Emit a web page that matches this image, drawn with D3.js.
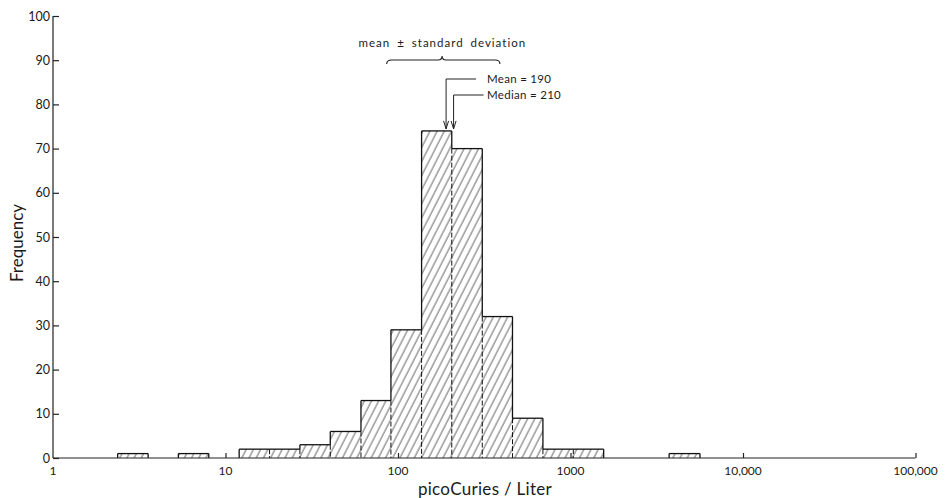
<!DOCTYPE html>
<html>
<head>
<meta charset="utf-8">
<script src="https://cdn.jsdelivr.net/npm/d3@7/dist/d3.min.js"></script>
<style>
  html, body { margin: 0; padding: 0; background: #fff; }
  svg { display: block; }
  text { font-family: Lato, "DejaVu Sans", sans-serif; fill: #1a1a1a; }
</style>
</head>
<body>
<svg id="chart" width="946" height="498"></svg>
<script>
// Histogram of radon concentration (picoCuries per liter), log-spaced bins
const binLow  = [2.37, 5.33, 12, 18, 27, 40.5, 61, 91, 137, 205, 308, 461, 692, 1038, 3730];
const binHigh = [3.56, 8,    18, 27, 40.5, 61, 91, 137, 205, 308, 461, 692, 1038, 1557, 5630];
const frequency = [1, 1, 2, 2, 3, 6, 13, 29, 74, 70, 32, 9, 2, 2, 1];

const xTickValues = [1, 10, 100, 1000, 10000, 100000];
const xTickLabels = ["1", "10", "100", "1000", "10,000", "100,000"];
const yTickValues = [0, 10, 20, 30, 40, 50, 60, 70, 80, 90, 100];

const meanValue = 190;
const medianValue = 210;
const sdRange = [86, 390];

const svg = d3.select("#chart");
const x = d3.scaleLog().domain([1, 100000]).range([53, 915.5]);
const y = d3.scaleLinear().domain([0, 100]).range([458, 16]);

// diagonal hatch used to fill the bars
const defs = svg.append("defs");
const pat = defs.append("pattern")
  .attr("id", "hatch")
  .attr("patternUnits", "userSpaceOnUse")
  .attr("width", 6.4).attr("height", 10)
  .attr("patternTransform", "rotate(27)");
pat.append("line")
  .attr("x1", 1).attr("y1", -2).attr("x2", 1).attr("y2", 12)
  .attr("stroke", "#3a3a3a").attr("stroke-width", 0.8);

const bins = frequency.map((f, i) => ({ lo: binLow[i], hi: binHigh[i], f }));

// bar fills
svg.append("g").selectAll("rect").data(bins).join("rect")
  .attr("x", d => x(d.lo))
  .attr("y", d => y(d.f))
  .attr("width", d => x(d.hi) - x(d.lo))
  .attr("height", d => y(0) - y(d.f))
  .attr("fill", "url(#hatch)");

// bar outlines: solid outer edges, dashed dividers between touching bars
const outline = svg.append("g").attr("fill", "none").attr("stroke", "#111");
bins.forEach((d, i) => {
  const x0 = x(d.lo), x1 = x(d.hi), yt = y(d.f);
  outline.append("line").attr("x1", x0).attr("x2", x1).attr("y1", yt).attr("y2", yt)
    .attr("stroke-width", 1.3);
  const prev = i > 0 && bins[i - 1].hi === d.lo ? bins[i - 1] : null;
  const next = i < bins.length - 1 && bins[i + 1].lo === d.hi ? bins[i + 1] : null;
  // left side
  const lBase = prev ? Math.min(prev.f, d.f) : 0;
  if (!prev || d.f > prev.f)
    outline.append("line").attr("x1", x0).attr("x2", x0).attr("y1", yt).attr("y2", y(lBase))
      .attr("stroke-width", 1.3);
  if (prev)
    outline.append("line").attr("x1", x0).attr("x2", x0).attr("y1", y(lBase)).attr("y2", y(0))
      .attr("stroke-width", 1).attr("stroke-dasharray", "5,2");
  // right side
  const rBase = next ? Math.min(next.f, d.f) : 0;
  if (!next || d.f > next.f)
    outline.append("line").attr("x1", x1).attr("x2", x1).attr("y1", yt).attr("y2", y(rBase))
      .attr("stroke-width", 1.3);
});

// y axis
const yAxis = d3.axisRight(y).tickValues(yTickValues).tickSize(6).tickFormat(d3.format("d"));
const gy = svg.append("g").attr("transform", `translate(${x(1)},0)`).call(yAxis);
gy.select(".domain").attr("d", `M0,${y(100)}V${y(0)}`).attr("stroke", "#222").attr("stroke-width", 1.2);
gy.selectAll(".tick line").attr("stroke", "#222").attr("stroke-width", 1.2);
gy.selectAll(".tick text").attr("x", -3).attr("text-anchor", "end")
  .attr("font-size", 12.5).attr("fill", "#1a1a1a");

// x axis: baseline with small upward decade ticks
const xAxis = d3.axisTop(x).tickValues(xTickValues).tickSize(5).tickFormat(() => "");
const gx = svg.append("g").attr("transform", `translate(0,${y(0)})`).call(xAxis);
gx.select(".domain").attr("d", `M${x(1)},0H${x(100000)}`).attr("stroke", "#222").attr("stroke-width", 1.2);
gx.selectAll(".tick line").attr("stroke", "#222").attr("stroke-width", 1.2);
gx.selectAll(".tick").filter(d => d === 1).select("line").remove();

svg.append("g").selectAll("text").data(xTickValues).join("text")
  .attr("x", d => x(d))
  .attr("y", 475)
  .attr("text-anchor", "middle")
  .attr("font-size", 12)
  .text((d, i) => xTickLabels[i]);

// axis titles
svg.append("text")
  .attr("x", 485)
  .attr("y", 495)
  .attr("text-anchor", "middle")
  .attr("font-size", 17)
  .attr("letter-spacing", 0.3)
  .text("picoCuries / Liter");

svg.append("text")
  .attr("transform", "translate(23,243) rotate(-90)")
  .attr("text-anchor", "middle")
  .attr("font-size", 17)
  .text("Frequency");

// mean ± standard deviation brace
const bx0 = x(sdRange[0]), bx1 = x(sdRange[1]), bxm = x(meanValue) - 4;
const by = 60;
svg.append("path")
  .attr("d", `M${bx0},${by + 4} Q${bx0},${by} ${bx0 + 5},${by} L${bxm - 4},${by} Q${bxm},${by} ${bxm},${by - 4} Q${bxm},${by} ${bxm + 4},${by} L${bx1 - 5},${by} Q${bx1},${by} ${bx1},${by + 4}`)
  .attr("fill", "none").attr("stroke", "#222").attr("stroke-width", 1.1);
svg.append("text")
  .attr("x", (bx0 + bx1) / 2 - 1)
  .attr("y", 47)
  .attr("text-anchor", "middle")
  .attr("font-size", 11.5)
  .attr("letter-spacing", 1)
  .attr("word-spacing", 3)
  .text("mean \u00b1 standard deviation");

// mean and median leader arrows
const barTopY = y(d3.max(frequency));
const markers = [
  { v: meanValue, yLine: 79, label: "Mean = 190" },
  { v: medianValue, yLine: 95, label: "Median = 210" }
];
markers.forEach(m => {
  const mx = x(m.v);
  const tip = barTopY - 2;
  svg.append("path")
    .attr("d", `M${mx + 30},${m.yLine} H${mx} V${tip}`)
    .attr("fill", "none").attr("stroke", "#222").attr("stroke-width", 1);
  svg.append("path")
    .attr("d", `M${mx - 2.5},${tip - 8} L${mx},${tip} L${mx + 2.5},${tip - 8}`)
    .attr("fill", "none").attr("stroke", "#222").attr("stroke-width", 1);
  svg.append("text")
    .attr("x", 487)
    .attr("y", m.yLine + 4)
    .attr("font-size", 11.5)
    .attr("letter-spacing", 0.3)
    .text(m.label);
});
</script>
</body>
</html>
